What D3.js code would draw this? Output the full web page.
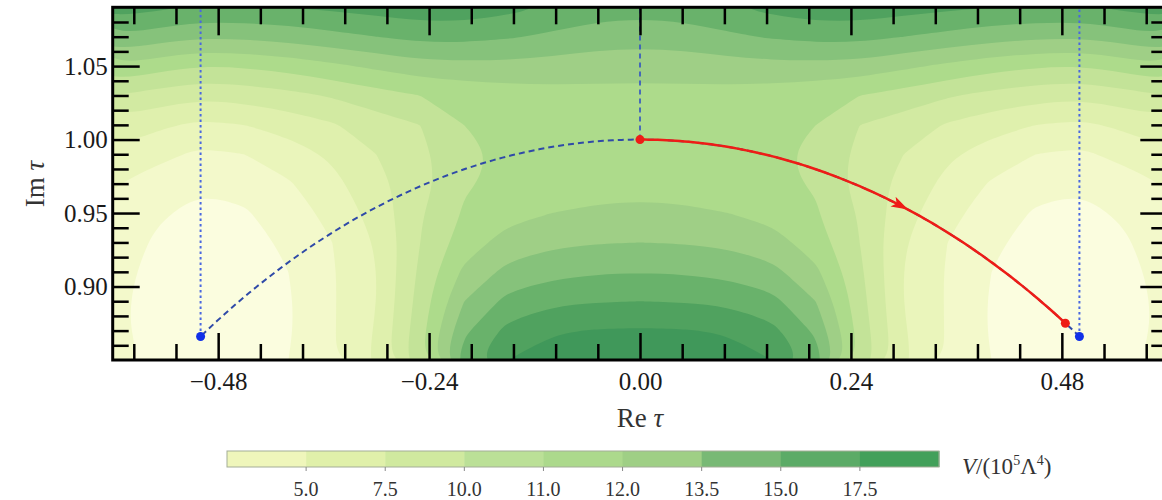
<!DOCTYPE html>
<html>
<head>
<meta charset="utf-8">
<script src="https://cdn.jsdelivr.net/npm/d3@7"></script>
<style>
  body { margin: 0; background: #fff; }
  svg { display: block; font-family: "Liberation Serif", "Times New Roman", serif; }
</style>
</head>
<body>
<svg id="chart" width="1162" height="500"></svg>
<script>
// Grid of the potential (V in units of 10^5 Lambda^4)
const reGrid = [-0.6, -0.55, -0.5, -0.45, -0.4, -0.35, -0.3, -0.25, -0.2, -0.15, -0.1, -0.05, 0,
                0.05, 0.1, 0.15, 0.2, 0.25, 0.3, 0.35, 0.4, 0.45, 0.5, 0.55, 0.6];
const imGrid = [1.09, 1.07, 1.05, 1.03, 1.01, 0.99, 0.97, 0.95, 0.93, 0.91, 0.89, 0.87, 0.85];

const potential = [
  [15.63, 15.25, 14.88, 14.88, 15.0, 15.25, 15.5, 15.75, 15.75, 15.38, 14.88, 14.38, 14.25, 14.38, 14.88, 15.38, 15.75, 15.75, 15.5, 15.25, 15.0, 14.88, 14.88, 15.25, 15.63],
  [13.63, 13.13, 12.63, 12.75, 13.0, 13.38, 13.75, 14.13, 14.13, 13.88, 13.5, 13.13, 13.0, 13.13, 13.5, 13.88, 14.13, 14.13, 13.75, 13.38, 13.0, 12.75, 12.63, 13.13, 13.63],
  [11.13, 10.5, 10.0, 10.13, 10.5, 11.0, 11.5, 12.0, 12.13, 12.13, 12.0, 11.81, 11.75, 11.81, 12.0, 12.13, 12.13, 12.0, 11.5, 11.0, 10.5, 10.13, 10.0, 10.5, 11.13],
  [8.75, 8.25, 7.75, 8.0, 8.38, 8.88, 9.5, 10.0, 10.38, 10.63, 10.81, 10.88, 10.88, 10.88, 10.81, 10.63, 10.38, 10.0, 9.5, 8.88, 8.38, 8.0, 7.75, 8.25, 8.75],
  [7.0, 6.5, 6.0, 6.25, 6.75, 7.38, 8.13, 8.75, 10.0, 10.2, 10.38, 10.5, 10.53, 10.5, 10.38, 10.2, 10.0, 8.75, 8.13, 7.38, 6.75, 6.25, 6.0, 6.5, 7.0],
  [6.0, 5.38, 4.75, 5.0, 5.63, 6.5, 7.5, 8.38, 9.88, 10.1, 10.38, 10.5, 10.56, 10.5, 10.38, 10.1, 9.88, 8.38, 7.5, 6.5, 5.63, 5.0, 4.75, 5.38, 6.0],
  [5.13, 4.38, 3.88, 4.13, 4.88, 5.88, 7.13, 8.25, 9.88, 10.3, 10.63, 10.81, 10.88, 10.81, 10.63, 10.3, 9.88, 8.25, 7.13, 5.88, 4.88, 4.13, 3.88, 4.38, 5.13],
  [4.63, 3.88, 3.5, 3.63, 4.38, 5.38, 6.75, 8.63, 10.13, 10.88, 11.25, 11.44, 11.5, 11.44, 11.25, 10.88, 10.13, 8.63, 6.75, 5.38, 4.38, 3.63, 3.5, 3.88, 4.63],
  [4.25, 3.63, 3.13, 3.25, 4.0, 5.0, 6.38, 8.75, 10.63, 11.75, 12.25, 12.44, 12.5, 12.44, 12.25, 11.75, 10.63, 8.75, 6.38, 5.0, 4.0, 3.25, 3.13, 3.63, 4.25],
  [4.13, 3.44, 2.88, 3.0, 3.75, 4.88, 6.25, 9.0, 11.5, 12.88, 13.38, 13.63, 13.69, 13.63, 13.38, 12.88, 11.5, 9.0, 6.25, 4.88, 3.75, 3.0, 2.88, 3.44, 4.13],
  [4.0, 3.38, 2.81, 2.88, 3.63, 4.88, 6.25, 9.25, 12.5, 14.13, 14.75, 14.94, 15.0, 14.94, 14.75, 14.13, 12.5, 9.25, 6.25, 4.88, 3.63, 2.88, 2.81, 3.38, 4.0],
  [4.0, 3.38, 2.81, 2.88, 3.63, 4.88, 6.38, 9.5, 13.5, 15.38, 16.13, 16.31, 16.38, 16.31, 16.13, 15.38, 13.5, 9.5, 6.38, 4.88, 3.63, 2.88, 2.81, 3.38, 4.0],
  [4.13, 3.5, 2.94, 3.0, 3.75, 4.88, 6.5, 9.75, 14.38, 16.25, 16.88, 17.13, 17.25, 17.13, 16.88, 16.25, 14.38, 9.75, 6.5, 4.88, 3.75, 3.0, 2.94, 3.5, 4.13]
];

// filled contour levels and fills used inside the plot
const plotLevels = [3.75, 5, 6.25, 7.5, 8.75, 10, 11.25, 12.5, 13.75, 15, 16.25];
const bandColors = ["#fbfddf", "#f3f9cb", "#eaf5bb", "#dff0ad", "#d2eaa2", "#c3e398",
                    "#addb8b", "#9fcf86", "#86c27b", "#69b26b", "#50a25f", "#40985a"];

// colorbar
const cbarTicks = ["5.0", "7.5", "10.0", "11.0", "12.0", "13.5", "15.0", "17.5"];
const cbarColors = ["#eff6bb", "#e0f0aa", "#d0e99f", "#bbe097", "#acd98c", "#9fcf85", "#78b975", "#5cab67", "#42a05a"];

// axis ticks
const xMajor = [-0.48, -0.24, 0, 0.24, 0.48];
const yMajor = [0.90, 0.95, 1.00, 1.05];

// fundamental domain boundary and the path
const arcRange = [0.5, -0.5];          // Re tau along |tau| = 1
const walls = [{re: -0.5, im: 0.866, style: "dot"}, {re: 0, im: 1.0, style: "dash"}, {re: 0.5, im: 0.866, style: "dot"}];
const flowRe = [0, 0.484];             // red trajectory start / end (Re tau, on |tau| = 1)
const arrowRe = 0.296;
const bluePoints = [[-0.5, 0.866], [0.5, 0.866]];
const redPoints = [[0, 1.0], [0.484, 0.875]];

const svg = d3.select("#chart");
const x = d3.scaleLinear().domain([-0.6, 0.6]).range([112.7, 1167.3]);
const y = d3.scaleLinear().domain([0.85, 1.09]).range([360, 7.3]);

svg.append("clipPath").attr("id", "plotclip")
  .append("rect").attr("x", x(-0.6)).attr("y", y(1.09))
  .attr("width", x(0.6) - x(-0.6)).attr("height", y(0.85) - y(1.09));

const plot = svg.append("g").attr("clip-path", "url(#plotclip)");

// contour coordinates -> pixels (cell centres are at i + 0.5)
const nx = reGrid.length, ny = imGrid.length;
const gx = d3.scaleLinear().domain([0.5, nx - 0.5]).range([x(reGrid[0]), x(reGrid[nx - 1])]);
const gy = d3.scaleLinear().domain([0.5, ny - 0.5]).range([y(imGrid[0]), y(imGrid[ny - 1])]);

const contours = d3.contours().size([nx, ny]).thresholds(plotLevels)(potential.flat());
const ringLine = d3.line().x(p => gx(p[0])).y(p => gy(p[1])).curve(d3.curveBasisClosed);

plot.append("rect")
  .attr("x", x(-0.6)).attr("y", y(1.09))
  .attr("width", x(0.6) - x(-0.6)).attr("height", y(0.85) - y(1.09))
  .attr("fill", bandColors[0]);

plot.selectAll(".band")
  .data(contours)
  .enter().append("path")
  .attr("class", "band")
  .attr("fill-rule", "evenodd")
  .attr("fill", (d, i) => bandColors[i + 1])
  .attr("d", d => d.coordinates.map(poly => poly.map(r => ringLine(r.slice(0, -1))).join("")).join(""));

// vertical walls of the fundamental domain
walls.forEach(w => {
  plot.append("line")
    .attr("x1", x(w.re)).attr("x2", x(w.re))
    .attr("y1", y(w.im)).attr("y2", y(1.09))
    .attr("stroke", w.style === "dot" ? "#4a68e0" : "#2f4fc4")
    .attr("stroke-width", w.style === "dot" ? 2 : 1.6)
    .attr("stroke-dasharray", w.style === "dot" ? "2.5,3" : "5,4");
});

// arc |tau| = 1
function arcPoints(re0, re1) {
  const t0 = Math.acos(re0), t1 = Math.acos(re1);
  return d3.range(0, 101).map(k => {
    const t = t0 + (t1 - t0) * k / 100;
    return [Math.cos(t), Math.sin(t)];
  });
}
const line = d3.line().x(p => x(p[0])).y(p => y(p[1]));

plot.append("path")
  .attr("d", line(arcPoints(arcRange[0], arcRange[1])))
  .attr("fill", "none").attr("stroke", "#2f4aa8")
  .attr("stroke-width", 2).attr("stroke-dasharray", "6,4");

plot.append("path")
  .attr("d", line(arcPoints(flowRe[0], flowRe[1])))
  .attr("fill", "none").attr("stroke", "#ee1c16").attr("stroke-width", 2.5);

// arrow head along the path
{
  const t = Math.acos(arrowRe);
  const p = [x(Math.cos(t)), y(Math.sin(t))];
  const q = [x(Math.cos(t - 0.01)), y(Math.sin(t - 0.01))];
  const ang = Math.atan2(q[1] - p[1], q[0] - p[0]) * 180 / Math.PI;
  plot.append("path")
    .attr("d", "M9,0 L-8,-5.5 L-4,0 L-8,5.5 Z")
    .attr("transform", `translate(${p[0]},${p[1]}) rotate(${ang})`)
    .attr("fill", "#ee1c16");
}

plot.selectAll(".bdot").data(bluePoints).enter().append("circle")
  .attr("cx", d => x(d[0])).attr("cy", d => y(d[1])).attr("r", 4.5).attr("fill", "#1030e8");
plot.selectAll(".rdot").data(redPoints).enter().append("circle")
  .attr("cx", d => x(d[0])).attr("cy", d => y(d[1])).attr("r", 4.5).attr("fill", "#ee1c16");

// axes with inward ticks on all sides
const xMinor = d3.range(-12, 13).map(i => +(i * 0.048).toFixed(3)).filter(v => !xMajor.includes(v));
const yMinor = d3.range(86, 109).map(i => i / 100).filter(v => !yMajor.includes(v));
const fmt = d3.format(".2f");

function axisGroup(axis, tx, ty) {
  const g = svg.append("g").attr("transform", `translate(${tx},${ty})`).call(axis);
  g.select(".domain").remove();
  g.selectAll(".tick line").attr("stroke", "#000").attr("stroke-width", 2.5);
  g.selectAll("text").attr("font-size", 25).attr("fill", "#1a1a1a")
    .attr("font-family", "'Liberation Serif', serif");
  return g;
}

axisGroup(d3.axisBottom(x).tickValues(xMajor).tickFormat(fmt).tickSize(-27).tickPadding(12), 0, y(0.85));
axisGroup(d3.axisBottom(x).tickValues(xMinor).tickFormat("").tickSize(-16), 0, y(0.85));
axisGroup(d3.axisTop(x).tickValues(xMajor).tickFormat("").tickSize(-28), 0, y(1.09));
axisGroup(d3.axisTop(x).tickValues(xMinor).tickFormat("").tickSize(-17), 0, y(1.09));
axisGroup(d3.axisLeft(y).tickValues(yMajor).tickFormat(fmt).tickSize(-27).tickPadding(5), x(-0.6), 0);
axisGroup(d3.axisLeft(y).tickValues(yMinor).tickFormat("").tickSize(-16), x(-0.6), 0);
axisGroup(d3.axisRight(y).tickValues(yMajor).tickFormat("").tickSize(-27), x(0.6), 0);
axisGroup(d3.axisRight(y).tickValues(yMinor).tickFormat("").tickSize(-16), x(0.6), 0);

svg.append("rect")
  .attr("x", x(-0.6)).attr("y", y(1.09))
  .attr("width", x(0.6) - x(-0.6)).attr("height", y(0.85) - y(1.09))
  .attr("fill", "none").attr("stroke", "#000").attr("stroke-width", 3);

// axis labels
svg.append("text").attr("x", 640).attr("y", 427).attr("text-anchor", "middle")
  .attr("font-size", 27).attr("fill", "#333")
  .html('Re <tspan font-style="italic">τ</tspan>');
svg.append("text").attr("transform", "translate(44,184) rotate(-90)").attr("text-anchor", "middle")
  .attr("font-size", 27).attr("fill", "#333")
  .html('Im <tspan font-style="italic">τ</tspan>');

// colorbar
const cb = { x0: 227, x1: 939, y: 451, h: 16 };
const cbx = d3.scaleBand().domain(d3.range(cbarColors.length)).range([cb.x0, cb.x1]);
const cbg = svg.append("g");
cbg.selectAll("rect.seg").data(cbarColors).enter().append("rect")
  .attr("class", "seg")
  .attr("x", (d, i) => cbx(i)).attr("y", cb.y)
  .attr("width", cbx.bandwidth() + 0.5).attr("height", cb.h)
  .attr("fill", d => d);
cbg.append("rect").attr("x", cb.x0).attr("y", cb.y).attr("width", cb.x1 - cb.x0).attr("height", cb.h)
  .attr("fill", "none").attr("stroke", "#a4ad98").attr("stroke-width", 1);
cbg.selectAll("line.tk").data(cbarTicks).enter().append("line")
  .attr("class", "tk")
  .attr("x1", (d, i) => cbx(i + 1)).attr("x2", (d, i) => cbx(i + 1))
  .attr("y1", cb.y + cb.h).attr("y2", cb.y + cb.h + 4)
  .attr("stroke", "#888").attr("stroke-width", 1);
cbg.selectAll("text.tl").data(cbarTicks).enter().append("text")
  .attr("class", "tl")
  .attr("x", (d, i) => cbx(i + 1)).attr("y", 496)
  .attr("text-anchor", "middle").attr("font-size", 20).attr("fill", "#333")
  .text(d => d);
svg.append("text").attr("x", 962).attr("y", 474).attr("font-size", 23).attr("fill", "#333")
  .html('<tspan font-style="italic">V</tspan>/(10<tspan dy="-9" font-size="14">5</tspan><tspan dy="9">Λ</tspan><tspan dy="-9" font-size="14">4</tspan><tspan dy="9">)</tspan>');
</script>
</body>
</html>
